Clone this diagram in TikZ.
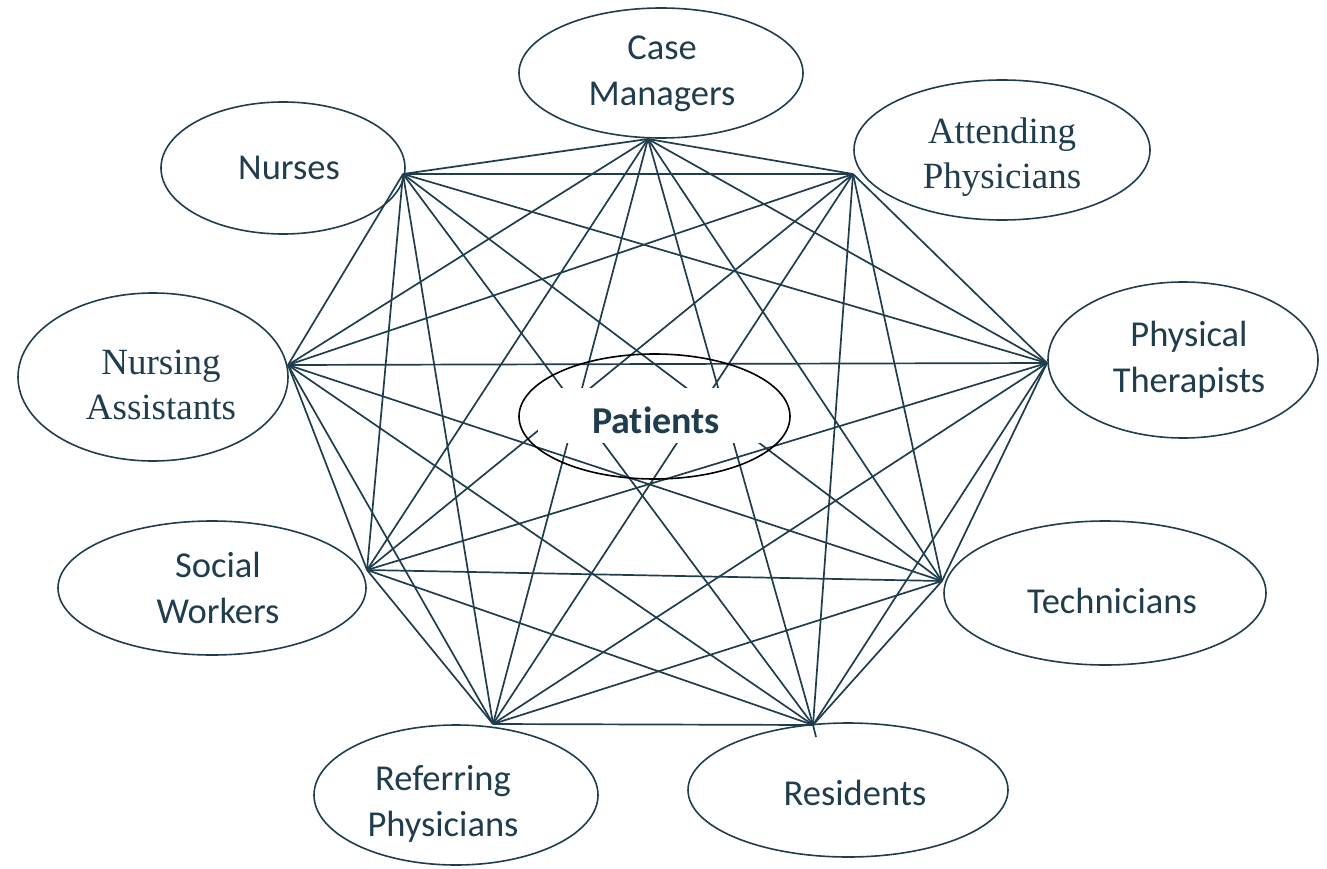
\documentclass[tikz,border=0pt]{standalone}
\usepackage{fontspec}
\setmainfont{Carlito}[Ligatures=NoCommon]
\newfontfamily\serfont{Liberation Serif}
\usetikzlibrary{shapes.geometric}
\definecolor{ink}{HTML}{1F3D4D}
\tikzset{
  oval/.style={draw=ink, line width=1.6pt, ellipse, inner sep=0pt},
  edge/.style={draw=ink, line width=1.7pt},
  lab/.style={text=ink, align=center, inner sep=0pt, font=\fontsize{36.5}{46}\selectfont},
  slab/.style={text=ink, align=center, inner sep=0pt, font=\serfont\fontsize{37}{45}\selectfont},
}
\begin{document}
\begin{tikzpicture}[x=1pt,y=-1pt]
\useasboundingbox (0,0) rectangle (1327,869);
% outer ellipses
\node[oval, minimum width=284pt, minimum height=130pt] (ecm) at (661,73) {};
\node[oval, minimum width=244pt, minimum height=132pt] (enu) at (283,168) {};
\node[oval, minimum width=296pt, minimum height=140pt] (eat) at (1002,150) {};
\node[oval, minimum width=270pt, minimum height=168pt] (ena) at (153,377) {};
\node[oval, minimum width=270pt, minimum height=156pt] (ept) at (1183,360) {};
\node[oval, minimum width=308pt, minimum height=134pt] (esw) at (212,588) {};
\node[oval, minimum width=322pt, minimum height=144pt] (ete) at (1105,593) {};
\node[oval, minimum width=284pt, minimum height=140pt] (erp) at (456,795) {};
\node[oval, minimum width=320pt, minimum height=134pt] (ere) at (848,790) {};
% hub points
\coordinate (v1) at (648,139);
\coordinate (v2) at (403,174);
\coordinate (v3) at (853,174);
\coordinate (v4) at (288,365);
\coordinate (v5) at (1047,363);
\coordinate (v6) at (367,570);
\coordinate (v7) at (942,581);
\coordinate (v8) at (493,724);
\coordinate (v9) at (813,725);
\coordinate (tail) at (816,737);
\foreach \i in {1,...,9}{\foreach \j in {1,...,9}{\ifnum\i<\j \draw[edge] (v\i) -- (v\j);\fi}}
\draw[edge] (v9) -- (tail);
% centre
\fill[white] (538,388) rectangle (772,443);
\node[draw=black, line width=1.6pt, ellipse, inner sep=0pt, minimum width=271pt, minimum height=125pt] (epa) at (654.5,416.5) {};
\node[lab, font=\bfseries\fontsize{38}{46}\selectfont] (tpa) at (656,420) {Patients};
% labels
\node[lab] (tcm) at (662,74) {Case\\Managers};
\node[lab] (tnu) at (289,168) {Nurses};
\node[slab] (tat) at (1002,157) {Attending\\Physicians};
\node[slab] (tna) at (161,385) {Nursing\\Assistants};
\node[lab] (tpt) at (1189,360) {Physical\\Therapists};
\node[lab] (tsw) at (218,588) {Social\\Workers};
\node[lab] (tte) at (1112,601) {Technicians};
\node[lab] (trp) at (443,804) {Referring\\Physicians};
\node[lab] (tre) at (855,793) {Residents};
\end{tikzpicture}
\end{document}
